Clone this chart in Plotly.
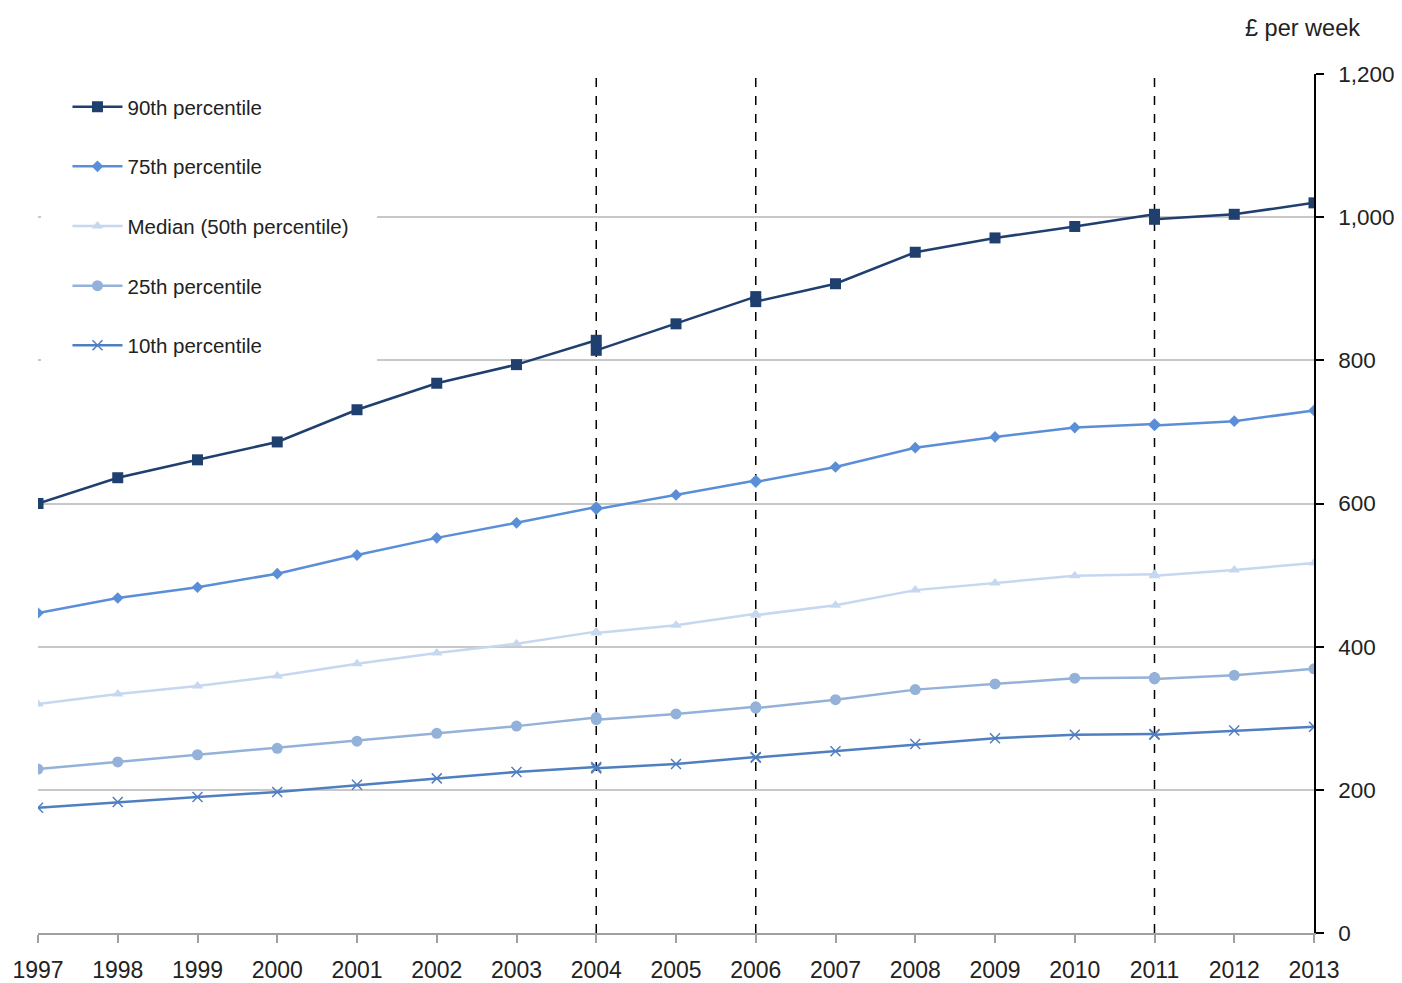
import plotly.graph_objects as go

years = list(range(1997, 2014))
break_years = [2004, 2006, 2011]

# Values at each year (at break years: value on the old basis)
p90 = [600, 636, 661, 686, 731, 768, 794, 828, 851, 889, 907, 951, 971, 987, 1004, 1004, 1020]
p75 = [447, 468, 483, 502, 528, 552, 573, 595, 612, 632, 651, 678, 693, 706, 711, 715, 730]
p50 = [320, 334, 345, 359, 376, 391, 404, 421, 430, 446, 458, 479, 489, 499, 501, 507, 517]
p25 = [229, 239, 249, 258, 268, 279, 289, 301, 306, 316, 326, 340, 348, 356, 357, 360, 369]
p10 = [175, 183, 190, 197, 207, 216, 225, 232, 236, 246, 254, 264, 272, 277, 278, 283, 288]

# Values at break years on the new basis
p90_new = [814, 882, 997]
p75_new = [592, 630, 709]
p50_new = [419, 444, 499]
p25_new = [298, 314, 355]
p10_new = [230, 245, 277]

names = ["90th percentile", "75th percentile", "Median (50th percentile)",
         "25th percentile", "10th percentile"]
colors = ["#1F3F6F", "#5A8FD8", "#C5D8F0", "#93B1D9", "#4F7FC0"]
symbols = ["square", "diamond", "triangle-up", "circle", "x-thin"]
sizes = [11, 9, 10, 11, 10]


def build(vals, new_vals):
    xs, ys = [], []
    for yr, v in zip(years, vals):
        xs.append(yr)
        ys.append(v)
        if yr in break_years:
            xs.append(None)
            ys.append(None)
            xs.append(yr)
            ys.append(new_vals[break_years.index(yr)])
    return xs, ys


fig = go.Figure()
series = [(p90, p90_new), (p75, p75_new), (p50, p50_new), (p25, p25_new), (p10, p10_new)]
for i, (vals, nv) in enumerate(series):
    xs, ys = build(vals, nv)
    marker = dict(symbol=symbols[i], size=sizes[i], color=colors[i])
    if symbols[i] == "x-thin":
        marker["line"] = dict(width=1.5, color=colors[i])
    fig.add_trace(go.Scatter(
        x=xs, y=ys, name=names[i], mode="lines+markers",
        line=dict(color=colors[i], width=2.5), marker=marker,
        connectgaps=False, legendgroup=f"g{i}", hoverinfo="skip",
    ))

for yr in break_years:
    fig.add_shape(type="line", xref="x", yref="y", x0=yr, x1=yr, y0=0, y1=1200,
                  line=dict(color="black", width=1.5, dash="dash"), layer="below")

# white legend panel hiding the gridlines behind the legend
fig.add_shape(type="rect", xref="paper", yref="paper",
              x0=0.0024, x1=0.2657, y0=0.652, y1=0.993,
              fillcolor="white", line=dict(width=0), layer="above")

fig.add_annotation(text="£ per week", xref="paper", yref="paper", x=1.0376, y=1.054,
                   showarrow=False, xanchor="right", yanchor="middle",
                   font=dict(size=23.5, color="#222222"))

# the page body has an 8px margin, so the figure is 8px smaller and margins shifted
fig.update_layout(
    width=1394, height=975,
    margin=dict(l=30, r=88, t=66, b=50, autoexpand=False),
    paper_bgcolor="white", plot_bgcolor="white",
    font=dict(family="Liberation Sans, Arial, sans-serif", color="#222222"),
    showlegend=True,
    legend=dict(x=0.0231, y=0.985, xanchor="left", yanchor="top",
                bgcolor="rgba(0,0,0,0)", font=dict(size=20.5), tracegroupgap=30,
                itemwidth=50),
    xaxis=dict(range=[1997, 2013], tickmode="array", tickvals=years,
               ticktext=[str(y) for y in years], showgrid=False,
               showline=True, linecolor="#A0A0A0", linewidth=1.5,
               ticks="outside", ticklen=8, tickcolor="#A0A0A0", tickwidth=1.5,
               tickfont=dict(size=23), zeroline=False, fixedrange=True,
               automargin=False, ticklabelstandoff=8),
    yaxis=dict(range=[0, 1200], side="right", tickvals=[0, 200, 400, 600, 800, 1000, 1200],
               tickformat=",d", showgrid=True, gridcolor="#C8C8C8", gridwidth=1.5,
               showline=True, linecolor="black", linewidth=1.5,
               ticks="outside", ticklen=8, tickcolor="black", tickwidth=1.5,
               tickfont=dict(size=22.5), zeroline=False, fixedrange=True,
               automargin=False, ticklabelstandoff=10),
)

fig.write_html("out.html")
